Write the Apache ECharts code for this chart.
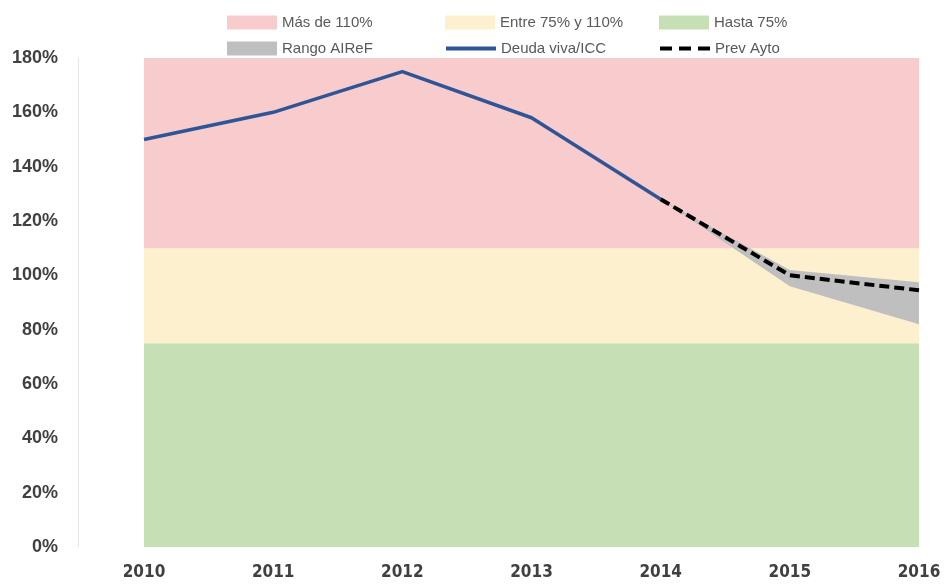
<!DOCTYPE html>
<html>
<head>
<meta charset="utf-8">
<script src="https://cdn.jsdelivr.net/npm/echarts@6/dist/echarts.min.js"></script>
<style>
  html, body { margin: 0; padding: 0; background: #fff; }
  #chart { width: 946px; height: 587px; }
</style>
</head>
<body>
<div id="chart"></div>
<script>
	// datos
	var years = ['2010', '2011', '2012', '2013', '2014', '2015', '2016'];
	var bandGreen = [75, 75, 75, 75, 75, 75, 75];      // Hasta 75%
	var bandYellow = [35, 35, 35, 35, 35, 35, 35];     // 75% - 110%
	var bandRed = [70, 70, 70, 70, 70, 70, 70];        // 110% - 180%
	var rangoLow = [null, null, null, null, 128, 96, 82];
	var rangoHigh = [null, null, null, null, 128, 102, 97.5];
	var deuda = [150, 160, 175, 158, 128, null, null];
	var prevAyto = [null, null, null, null, 128, 100, 94.5];
	var yTicks = { min: 0, max: 180, interval: 20 };

	var rangoDiff = rangoHigh.map(function (v, i) { return v == null ? null : +(v - rangoLow[i]).toFixed(2); });

	var txt = '#404040';
	var legFont = { fontFamily: 'Liberation Sans', fontSize: 15, color: '#595959' };

	function leg(name, left, top, icon, dash) {
		var d = { name: name };
		if (icon) d.icon = icon;
		var l = { left: left, top: top, itemWidth: 50, itemHeight: 14, itemGap: 0, textStyle: legFont, data: [d], selectedMode: false };
		if (!icon) {
			l.itemStyle = { opacity: 0 };
			l.lineStyle = { width: 4 };
			if (dash) l.lineStyle.type = dash;
		}
		return l;
	}

	var myChart = echarts.init(document.getElementById('chart'));
	var option = {
		animation: false,
		backgroundColor: '#fff',
		legend: [
			leg('Más de 110%', 222, 10, 'rect'),
			leg('Entre 75% y 110%', 440, 10, 'rect'),
			leg('Hasta 75%', 654, 10, 'rect'),
			leg('Rango AIReF', 222, 36, 'rect'),
			leg('Deuda viva/ICC', 439, 36),
			leg('Prev Ayto', 653, 36, null, [12, 7])
		],
		grid: { left: 144, top: 58, right: 27, bottom: 40 },
		xAxis: {
			type: 'category', data: years, boundaryGap: false,
			axisLine: { show: false }, axisTick: { show: false },
			axisLabel: { color: txt, fontFamily: 'DejaVu Sans Condensed', fontWeight: 'bold', fontSize: 17, margin: 17 }
		},
		yAxis: {
			type: 'value', min: yTicks.min, max: yTicks.max, interval: yTicks.interval,
			offset: 66,
			splitLine: { show: false },
			axisLine: { show: true, lineStyle: { color: '#e4e4e4', width: 1 } },
			axisTick: { show: false },
			axisLabel: { color: txt, fontFamily: 'Liberation Sans', fontWeight: 'bold', fontSize: 18, margin: 20, formatter: '{value}%' }
		},
		series: [
			{ name: 'Hasta 75%', type: 'line', stack: 'bands', data: bandGreen, symbol: 'none', lineStyle: { width: 0 },
				itemStyle: { color: '#C6DFB4' }, areaStyle: { color: '#C6DFB4', opacity: 1 }, z: 1 },
			{ name: 'Entre 75% y 110%', type: 'line', stack: 'bands', data: bandYellow, symbol: 'none', lineStyle: { width: 0 },
				itemStyle: { color: '#FCF0CE' }, areaStyle: { color: '#FCF0CE', opacity: 1 }, z: 1 },
			{ name: 'Más de 110%', type: 'line', stack: 'bands', data: bandRed, symbol: 'none', lineStyle: { width: 0 },
				itemStyle: { color: '#F8CBCD' }, areaStyle: { color: '#F8CBCD', opacity: 1 }, z: 1 },
			{ name: 'rangoBase', type: 'line', stack: 'rango', data: rangoLow, symbol: 'none', lineStyle: { width: 0 },
				areaStyle: { opacity: 0 }, z: 2 },
			{ name: 'Rango AIReF', type: 'line', stack: 'rango', data: rangoDiff, symbol: 'none', lineStyle: { width: 0 },
				itemStyle: { color: '#BFBFBF' }, areaStyle: { color: '#BFBFBF', opacity: 1 }, z: 2 },
			{ name: 'Deuda viva/ICC', type: 'line', data: deuda, symbol: 'none',
				itemStyle: { color: '#2F5597' }, lineStyle: { color: '#2F5597', width: 3.5 }, z: 3 },
			{ name: 'Prev Ayto', type: 'line', data: prevAyto, symbol: 'none',
				itemStyle: { color: '#000' }, lineStyle: { color: '#000', width: 4, type: [10, 5] }, z: 4 }
		]
	};
	myChart.setOption(option);
</script>
</body>
</html>
